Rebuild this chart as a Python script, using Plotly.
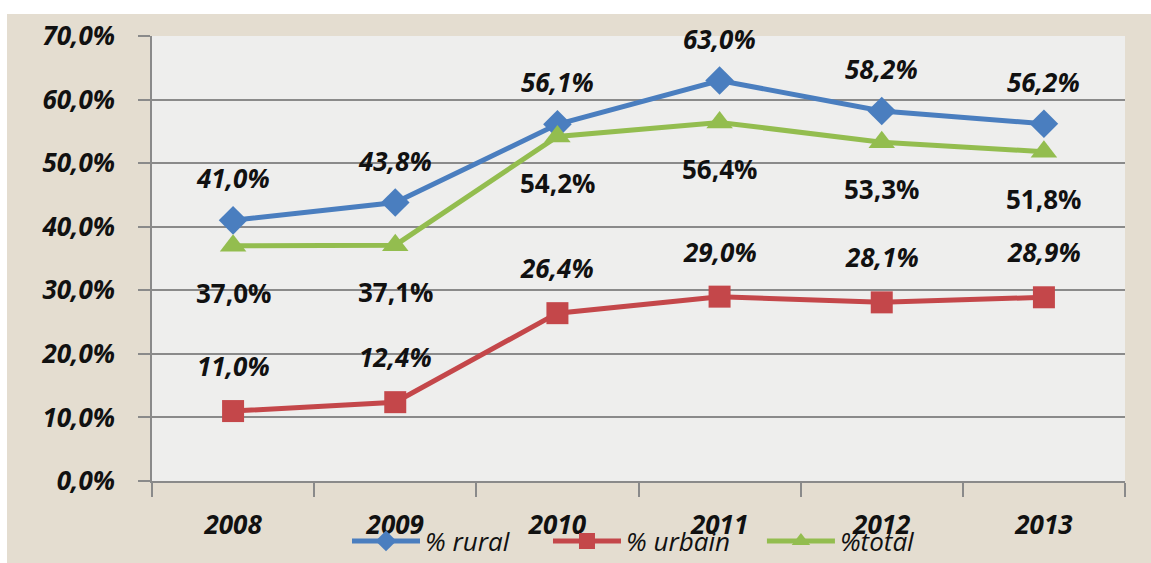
import plotly.graph_objects as go

# Share of households (%) by area, 2008-2013
years = [2008, 2009, 2010, 2011, 2012, 2013]
year_labels = ["2008", "2009", "2010", "2011", "2012", "2013"]
rural = [41.0, 43.8, 56.1, 63.0, 58.2, 56.2]
urbain = [11.0, 12.4, 26.4, 29.0, 28.1, 28.9]
total = [37.0, 37.1, 54.2, 56.4, 53.3, 51.8]
y_ticks = [0, 10, 20, 30, 40, 50, 60, 70]
series_names = ["% rural", "% urbain", "%total"]

W, H = 1151, 563
ML, MR, MT, MB = 152, 26, 36, 82
PW, PH = W - ML - MR, H - MT - MB

BLUE = "#4a7ebf"
RED = "#c4474a"
GREEN = "#93bd4f"
AXIS = "#8a8a8a"
BEIGE = "#e4ddd0"
FONT = "Open Sans"
NBSP = "\u00a0"


def fmt(v):
    return f"{v:.1f}".replace(".", ",") + "%"


def px_x(p):
    return (p - ML) / PW


def px_y(p):
    return (H - MB - p) / PH


fig = go.Figure()

# legend entries get trailing padding so the items spread out along the bottom
fig.add_trace(go.Scatter(
    x=years, y=rural, name=series_names[0] + NBSP * 5, mode="lines+markers",
    line=dict(color=BLUE, width=5),
    marker=dict(symbol="diamond", size=22, color=BLUE),
))
fig.add_trace(go.Scatter(
    x=years, y=urbain, name=series_names[1] + NBSP * 4, mode="lines+markers",
    line=dict(color=RED, width=5),
    marker=dict(symbol="square", size=22, color=RED),
))
fig.add_trace(go.Scatter(
    x=years, y=total, name=series_names[2], mode="lines+markers",
    line=dict(color=GREEN, width=5),
    marker=dict(symbol="triangle-up", size=23, color=GREEN),
))

label_font = dict(family=FONT, size=26, color="#111", weight="bold")
annotations = []
for x, v in zip(years, rural):
    annotations.append(dict(x=x, y=v, xref="x", yref="y", text=fmt(v), showarrow=False,
                            yshift=42, font=dict(label_font, style="italic")))
for x, v in zip(years, urbain):
    annotations.append(dict(x=x, y=v, xref="x", yref="y", text=fmt(v), showarrow=False,
                            yshift=45, font=dict(label_font, style="italic")))
for x, v in zip(years, total):
    annotations.append(dict(x=x, y=v, xref="x", yref="y", text=fmt(v), showarrow=False,
                            yshift=-47, font=dict(label_font)))

shapes = [
    # white border strips around the beige frame
    dict(type="rect", xref="paper", yref="paper", layer="below",
         x0=px_x(0), x1=px_x(W), y0=px_y(14), y1=px_y(0),
         fillcolor="white", line=dict(width=0)),
    dict(type="rect", xref="paper", yref="paper", layer="below",
         x0=px_x(0), x1=px_x(7), y0=px_y(H), y1=px_y(0),
         fillcolor="white", line=dict(width=0)),
]

fig.update_layout(
    width=W, height=H,
    margin=dict(l=ML, r=MR, t=MT, b=MB, autoexpand=False),
    paper_bgcolor=BEIGE,
    plot_bgcolor="#eeeeed",
    showlegend=True,
    legend=dict(
        orientation="h", x=px_x(634), xanchor="center", y=px_y(541), yanchor="middle",
        font=dict(family=FONT, size=26, color="#111", style="italic"),
        bgcolor="rgba(0,0,0,0)", itemwidth=68, traceorder="normal",
    ),
    annotations=annotations,
    shapes=shapes,
    xaxis=dict(
        range=[years[0] - 0.5, years[-1] + 0.5],
        tickvals=years, ticktext=year_labels, ticks="", tickangle=0,
        minor=dict(ticks="outside", ticklen=14, tickcolor=AXIS, tickwidth=1.5,
                   tick0=years[0] - 0.5, dtick=1, showgrid=False),
        showline=True, linecolor=AXIS, linewidth=1.5, showgrid=False, zeroline=False,
        tickfont=dict(label_font, style="italic"),
        ticklabelstandoff=20,
        automargin=False,
    ),
    yaxis=dict(
        range=[0, 70], tickvals=y_ticks, ticktext=[fmt(v) for v in y_ticks],
        ticks="outside", ticklen=12, tickcolor=AXIS, tickwidth=1.5,
        showline=True, linecolor=AXIS, linewidth=1.5,
        showgrid=True, gridcolor=AXIS, gridwidth=1.5, zeroline=False,
        tickfont=dict(label_font, style="italic"),
        ticklabelstandoff=18,
        automargin=False,
    ),
)

fig.write_html(
    "out.html",
    post_script="document.documentElement.style.overflow='hidden';"
                "document.body.style.overflow='hidden';document.body.style.margin='0';"
                f"document.body.style.background='{BEIGE}';",
)
